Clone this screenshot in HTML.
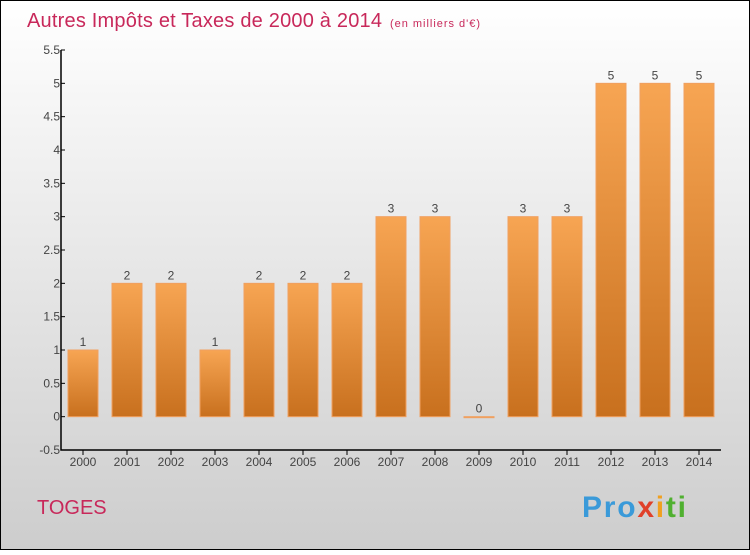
<!DOCTYPE html>
<html><head><meta charset="utf-8"><style>
body{margin:0}
#c{width:750px;height:550px;position:relative;font-family:"Liberation Sans",sans-serif}
</style></head><body>
<div id="c">
<svg id="s" width="750" height="550" xmlns="http://www.w3.org/2000/svg">
<defs>
<linearGradient id="bg" x1="0" y1="0" x2="0" y2="1"><stop offset="0" stop-color="#ffffff"/><stop offset="1" stop-color="#cdcdcd"/></linearGradient>
<linearGradient id="bar" x1="0" y1="0" x2="0" y2="1"><stop offset="0" stop-color="#f7a553"/><stop offset="1" stop-color="#c8701e"/></linearGradient>
</defs>
<rect x="0.5" y="0.5" width="749" height="549" fill="url(#bg)" stroke="#000"/>
<text x="27" y="27" font-size="20" fill="#c8285a" textLength="355">Autres Impôts et Taxes de 2000 à 2014</text>
<text x="390" y="27" font-size="11" fill="#c8285a" textLength="90">(en milliers d'€)</text>
<text x="37" y="514" font-size="20" fill="#c8285a">TOGES</text>
<text x="582" y="517" font-size="30" font-weight="bold" fill="#3a9ad9" textLength="104">Pro<tspan fill="#e0402a">x</tspan><tspan fill="#f0a020">i</tspan><tspan fill="#50b030">ti</tspan></text>
<g id="plot"></g>
</svg>
</div>
<script>
const years=["2000","2001","2002","2003","2004","2005","2006","2007","2008","2009","2010","2011","2012","2013","2014"];
const values=[1,2,2,1,2,2,2,3,3,0,3,3,5,5,5];
const yTicks=[-0.5,0,0.5,1,1.5,2,2.5,3,3.5,4,4.5,5,5.5];
const NS="http://www.w3.org/2000/svg";
const g=document.getElementById('plot');
const X0=61,X1=721,Ymin=-0.5,Ymax=5.5,YT=50,YB=450;
const y=v=>YB-(v-Ymin)/(Ymax-Ymin)*(YB-YT);
const bw=(X1-X0)/years.length;
const xc=i=>X0+(i+0.5)*bw;
function el(t,a){const e=document.createElementNS(NS,t);for(const k in a)e.setAttribute(k,a[k]);g.appendChild(e);return e;}
let ax=el('path',{d:`M${X0},${YT}V${YB}H${X1}`,stroke:'#000',fill:'none','stroke-width':1.5});


yTicks.forEach(v=>{
  el('line',{x1:X0,x2:X0+4,y1:y(v),y2:y(v),stroke:'#000'});
  const t=el('text',{x:X0-1,y:y(v)+4,'font-size':12,fill:'#444','text-anchor':'end'});
  t.textContent=String(v);
  
  
});
years.forEach((yr,i)=>{
  const v=values[i];
  const top=y(Math.max(v,0)),h=Math.abs(y(v)-y(0));
  const r=el('rect',{x:xc(i)-15,y:top,width:30,height:Math.max(h,1),fill:'url(#bar)',stroke:'#f0a060'});
  
  
  const lb=el('text',{x:xc(i),y:top-4,'font-size':12,fill:'#444','text-anchor':'middle'});
  lb.textContent=String(v);
  
  
  el('line',{x1:xc(i),x2:xc(i),y1:YB,y2:YB+5,stroke:'#000'});
  const t=el('text',{x:xc(i),y:YB+16,'font-size':12,fill:'#444','text-anchor':'middle'});
  t.textContent=yr;
  
  
});
</script>
</body></html>
